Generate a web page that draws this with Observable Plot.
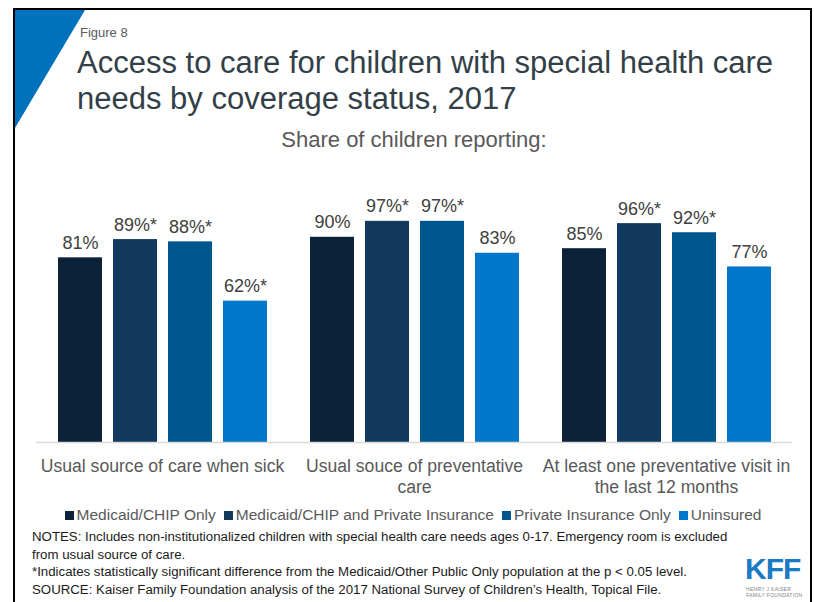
<!DOCTYPE html>
<html><head><meta charset="utf-8">
<script src="https://cdn.jsdelivr.net/npm/d3@7"></script>
<script src="https://cdn.jsdelivr.net/npm/@observablehq/plot@0.6"></script>
<style>
body{margin:0;background:#fff;}
#page{position:relative;width:814px;height:602px;overflow:hidden;background:#fff;font-family:"Liberation Sans",Arial,Helvetica,sans-serif;}
#frame{position:absolute;left:13px;top:8px;width:799px;height:700px;border:2.5px solid #000;box-sizing:border-box;}
#tri{position:absolute;left:15px;top:10px;width:70px;height:118px;background:#0071bc;clip-path:polygon(0 0,100% 0,0 100%);}
#fig{position:absolute;left:80px;top:26px;font-size:13px;line-height:13px;color:#595959;}
#title{position:absolute;left:77px;top:45px;font-size:31px;line-height:36px;color:#333f48;}
#subtitle{position:absolute;left:0;width:828px;top:129px;text-align:center;font-size:22px;line-height:22px;color:#595959;}
#chart{position:absolute;left:0;top:150px;}
#legend{position:absolute;left:0;top:506px;width:834px;}
.lg-swatches{justify-content:center;min-height:0 !important;margin:0 !important;}
.lg-swatch{margin-right:8px !important;}
.lg-swatch svg{margin-right:3px !important;}
#notes{position:absolute;left:32px;top:528px;font-size:13.25px;line-height:17.5px;color:#1a1a1a;}
#kff{position:absolute;left:745px;top:558px;font-size:30px;font-weight:bold;color:#1a7ac4;letter-spacing:-1px;line-height:22px;}
#kffsub{position:absolute;left:746px;top:586px;font-size:5px;line-height:6px;color:#7f7f7f;letter-spacing:0.3px;}
</style>
</head><body>
<div id="page">
  <div id="frame"></div>
  <div id="tri"></div>
  <div id="fig">Figure 8</div>
  <div id="title">Access to care for children with special health care<br>needs by coverage status, 2017</div>
  <div id="subtitle">Share of children reporting:</div>
  <div id="chart"></div>
  <div id="legend"></div>
  <div id="notes">NOTES: Includes non-institutionalized children with special health care needs ages 0-17. Emergency room is excluded<br>from usual source of care.<br>*Indicates statistically significant difference from the Medicaid/Other Public Only population at the p &lt; 0.05 level.<br>SOURCE: Kaiser Family Foundation analysis of the 2017 National Survey of Children’s Health, Topical File.</div>
  <div id="kff">KFF</div>
  <div id="kffsub">HENRY J KAISER<br>FAMILY FOUNDATION</div>
</div>
<script>
const categories = ["Usual source of care when sick", "Usual souce of preventative care", "At least one preventative visit in the last 12 months"];
const categoryLabels = ["Usual source of care when sick", "Usual souce of preventative\ncare", "At least one preventative visit in\nthe last 12 months"];
const series = ["Medicaid/CHIP Only", "Medicaid/CHIP and Private Insurance", "Private Insurance Only", "Uninsured"];
const medicaidOnly = [81, 90, 85];
const medicaidPrivate = [89, 97, 96];
const privateOnly = [88, 97, 92];
const uninsured = [62, 83, 77];
const medicaidOnlySig = [false, false, false];
const medicaidPrivateSig = [true, true, true];
const privateOnlySig = [true, true, true];
const uninsuredSig = [true, false, false];
const palette = ["#0b2238", "#113a5e", "#00568f", "#0077c8"];

const valueSets = [medicaidOnly, medicaidPrivate, privateOnly, uninsured];
const sigSets = [medicaidOnlySig, medicaidPrivateSig, privateOnlySig, uninsuredSig];
const rows = [];
categories.forEach((c, i) => series.forEach((s, j) => rows.push({category: c, series: s, value: valueSets[j][i], sig: sigSets[j][i]})));

const font = '"Liberation Sans", Arial, Helvetica, sans-serif';
const chart = Plot.plot({
  width: 814,
  height: 350,
  marginTop: 64,
  marginBottom: 58,
  marginLeft: 35,
  marginRight: 21,
  style: {fontFamily: font, background: "transparent", overflow: "visible"},
  fx: {domain: categories, padding: 0},
  x: {domain: series, paddingInner: 0.2, paddingOuter: 0.385, axis: null},
  y: {domain: [0, 100], axis: null},
  color: {domain: series, range: palette},
  marks: [
    Plot.barY(rows, {fx: "category", x: "series", y: "value", fill: "series"}),
    Plot.ruleY([0], {stroke: "#d9d9d9", strokeWidth: 1.5}),
    Plot.text(rows, {fx: "category", x: "series", y: "value", text: d => d.value + "%" + (d.sig ? "*" : ""), lineAnchor: "bottom", dy: -9, fontSize: 18, fill: "#404040"}),
    Plot.axisFx({anchor: "bottom", tickSize: 0, tickPadding: 14, label: null, fontSize: 17.6, fill: "#595959", lineHeight: 1.2, tickFormat: d => categoryLabels[categories.indexOf(d)]})
  ]
});
document.getElementById("chart").appendChild(chart);

const legend = Plot.legend({
  color: {type: "ordinal", domain: series, range: palette},
  legend: "swatches",
  swatchSize: 9,
  className: "lg",
  style: {fontFamily: font, fontSize: "15.5px", color: "#595959"}
});
document.getElementById("legend").appendChild(legend);
</script>
</body></html>
